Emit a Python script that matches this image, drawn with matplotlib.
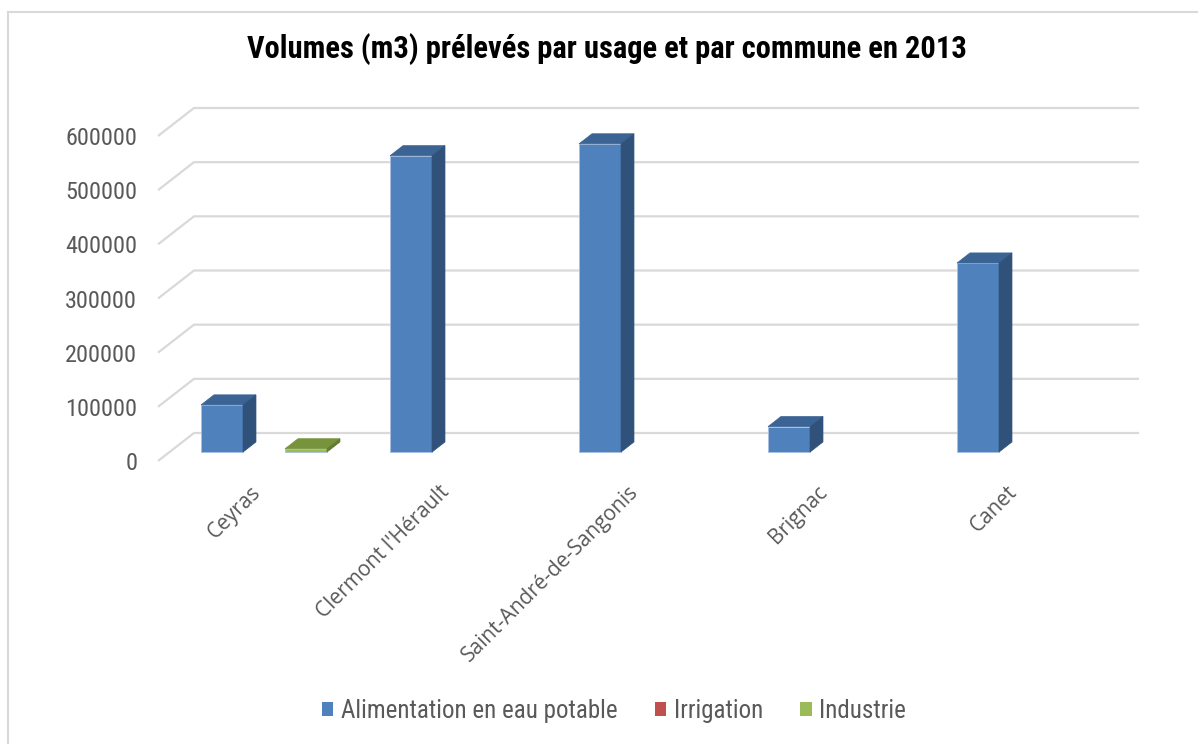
import matplotlib
matplotlib.use("Agg")
import matplotlib.pyplot as plt
from matplotlib import font_manager
from matplotlib.patches import Polygon, Patch
from matplotlib.lines import Line2D
from matplotlib.transforms import ScaledTranslation

# ---- data -------------------------------------------------------------
communes = ["Ceyras", "Clermont l'Hérault", "Saint-André-de-Sangonis", "Brignac", "Canet"]
series_names = ["Alimentation en eau potable", "Irrigation", "Industrie"]
aep = [87000, 547000, 569000, 47000, 349000]
irrigation = [0, 0, 0, 0, 0]
industrie = [6000, 0, 0, 0, 0]
y_ticks = [0, 100000, 200000, 300000, 400000, 500000, 600000]
title = "Volumes (m3) prélevés par usage et par commune en 2013"

# face colours: front, top, side
colors = {
    "Alimentation en eau potable": ("#4f81bd", "#3b6495", "#30527a"),
    "Irrigation": ("#c0504d", "#9a3b39", "#7f302e"),
    "Industrie": ("#9bbb59", "#77933c", "#637b31"),
}


def pick_font(candidates):
    for name in candidates:
        try:
            font_manager.findfont(name, fallback_to_default=False)
            return name
        except Exception:
            continue
    return "DejaVu Sans"


narrow = pick_font(["Liberation Sans Narrow", "Roboto Condensed", "Roboto"])
humanist = pick_font(["Open Sans", "Noto Sans", "DejaVu Sans"])

W, H = 1198, 744
fig = plt.figure(figsize=(W / 100, H / 100), dpi=100)
fig.patch.set_facecolor("white")

# chart-area border (top and left edges)
fig.add_artist(Line2D([8 / W, 8 / W], [0, 1 - 12 / H], color="#d9d9d9", lw=1.5))
fig.add_artist(Line2D([8 / W, 1], [1 - 12 / H, 1 - 12 / H], color="#d9d9d9", lw=1.5))

# front plane of the plot area
left_px, right_px, top_px, bot_px = 158, 1103, 136, 461
ax = fig.add_axes([left_px / W, 1 - bot_px / H, (right_px - left_px) / W, (bot_px - top_px) / H])
xmin, xmax = -0.5, len(communes) - 0.5
ymin, ymax = 0, 600000
ax.set_xlim(xmin, xmax)
ax.set_ylim(ymin, ymax)
for s in ax.spines.values():
    s.set_visible(False)

# perspective depth (pixels) converted to data units
px_x = (xmax - xmin) / (right_px - left_px)
px_y = (ymax - ymin) / (bot_px - top_px)
DX = 36 * px_x
DY = 28 * px_y
f0, f1 = 0.32, 0.68  # bar depth inside the floor

# gridlines drawn on the floor edge and the back wall
for v in y_ticks:
    ax.plot([xmin, xmin + DX, xmax + DX], [v, v + DY, v + DY],
            color="#d9d9d9", lw=1.6, clip_on=False, zorder=0, solid_capstyle="butt")

bar_w = 42 * px_x
offsets = [-bar_w, 0.0, bar_w]
all_series = [aep, irrigation, industrie]

for k, (name, vals) in enumerate(zip(series_names, all_series)):
    front, topc, side = colors[name]
    for i, v in enumerate(vals):
        if v <= 0:
            continue
        x0 = i + offsets[k] - bar_w / 2 + f0 * DX
        x1 = x0 + bar_w
        y0 = f0 * DY
        ddx = (f1 - f0) * DX
        ddy = (f1 - f0) * DY
        ax.bar(x0, v, width=bar_w, bottom=y0, align="edge", color=front,
               edgecolor="#a9c0df", lw=0.6, zorder=3, clip_on=False)
        yt = y0 + v
        ax.add_patch(Polygon([(x0, yt), (x1, yt), (x1 + ddx, yt + ddy), (x0 + ddx, yt + ddy)],
                             closed=True, facecolor=topc, edgecolor=topc, lw=0.5,
                             zorder=3, clip_on=False))
        ax.add_patch(Polygon([(x1, y0), (x1 + ddx, y0 + ddy), (x1 + ddx, yt + ddy), (x1, yt)],
                             closed=True, facecolor=side, edgecolor=side, lw=0.5,
                             zorder=3, clip_on=False))

# axes labels
ax.set_yticks(y_ticks)
ax.set_yticklabels([str(t) for t in y_ticks], fontfamily=narrow, fontsize=17.5, color="#595959")
ax.tick_params(axis="y", length=0, pad=15)
ax.set_xticks(range(len(communes)))
ax.set_xticklabels(communes, rotation=45, ha="right", va="center",
                   rotation_mode="anchor", fontfamily=humanist, fontsize=15, color="#595959")
ax.tick_params(axis="x", length=0, pad=20)
shift = ScaledTranslation(5 / 100, 0, fig.dpi_scale_trans)
for lbl in ax.get_xticklabels():
    lbl.set_transform(lbl.get_transform() + shift)

fig.text(607 / W, 1 - 58 / H, title, ha="center", va="baseline",
         fontfamily=narrow, fontweight="bold", fontsize=22, color="black")

handles = [Patch(facecolor=colors[n][0], edgecolor="none") for n in series_names]
fig.legend(handles, series_names, loc="center", bbox_to_anchor=(614 / W, 1 - 711 / H),
           ncol=3, frameon=False, handlelength=0.45, handleheight=0.45,
           handletextpad=0.3, columnspacing=1.5,
           prop={"family": narrow, "size": 18}, labelcolor="#595959")

fig.savefig("out.png", dpi=100, facecolor="white")
